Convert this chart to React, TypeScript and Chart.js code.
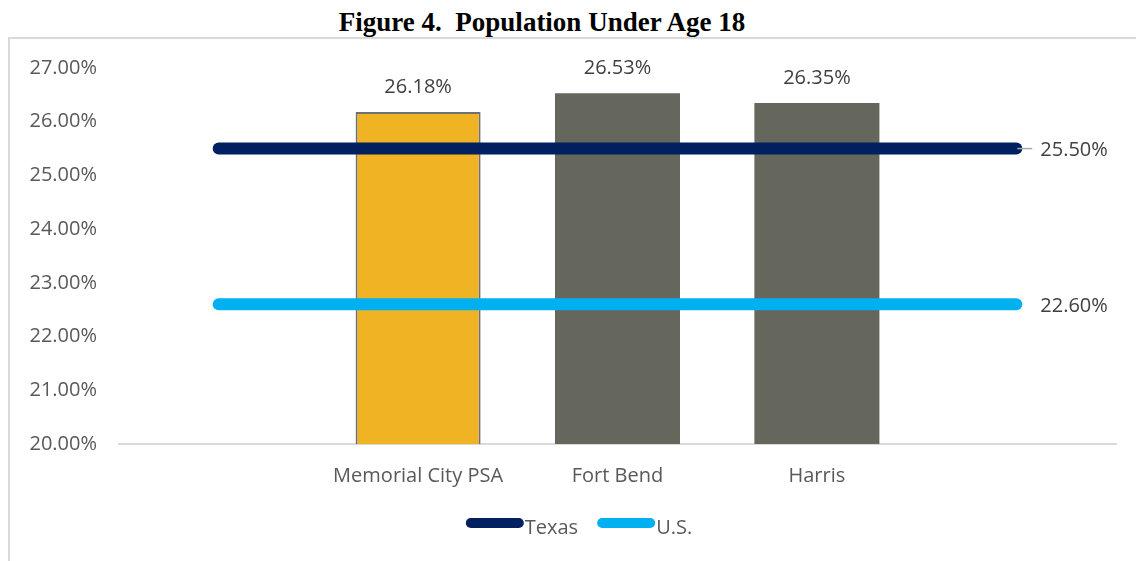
import React, { useEffect, useRef } from 'react';
import { Chart, registerables } from 'chart.js';

Chart.register(...registerables);

const titleText = 'Figure 4.  Population Under Age 18';
const categories = ['', 'Memorial City PSA', 'Fort Bend', 'Harris', ''];
const areaValues = [null, 26.18, 26.53, 26.35, null];
const texasValues = [25.5, 25.5, 25.5, 25.5, 25.5];
const usValues = [22.6, 22.6, 22.6, 22.6, 22.6];
const barColors = ['rgba(0,0,0,0)', '#F0B323', '#65665C', '#65665C', 'rgba(0,0,0,0)'];
const barBorderColors = ['rgba(0,0,0,0)', '#707070', '#65665C', '#65665C', 'rgba(0,0,0,0)'];
const barBorderWidths = [0, 2, 0, 0, 0];
const seriesNames = ['Texas', 'U.S.'];
const yMin = 20;
const yMax = 27;
const yStep = 1;

const FONT = '"Open Sans", "Noto Sans", sans-serif';
const TEXT = '#595959';

const fmt = (v: number) => v.toFixed(2) + '%';

const labelsPlugin = {
  id: 'customLabels',
  afterDatasetsDraw(chart: any) {
    const ctx = chart.ctx;
    ctx.save();
    ctx.font = `20px ${FONT}`;
    ctx.fillStyle = '#404040';
    const barMeta = chart.getDatasetMeta(2);
    barMeta.data.forEach((el: any, i: number) => {
      const v = chart.data.datasets[2].data[i];
      if (v == null) return;
      ctx.textAlign = 'center';
      ctx.textBaseline = 'alphabetic';
      ctx.fillText(fmt(v), el.x, el.y - 19);
    });
    [0, 1].forEach((di) => {
      const meta = chart.getDatasetMeta(di);
      const last = meta.data[meta.data.length - 1];
      const v = chart.data.datasets[di].data[meta.data.length - 1];
      if (di === 0) {
        ctx.strokeStyle = '#A6A6A6';
        ctx.lineWidth = 1.5;
        ctx.beginPath();
        ctx.moveTo(last.x + 1, last.y);
        ctx.lineTo(last.x + 16, last.y);
        ctx.stroke();
      }
      ctx.textAlign = 'left';
      ctx.textBaseline = 'alphabetic';
      ctx.fillStyle = '#404040';
      ctx.fillText(fmt(v), last.x + 24, last.y + 7.5);
    });
    ctx.restore();
  },
  afterDraw(chart: any) {
    const ctx = chart.ctx;
    ctx.save();
    ctx.font = `20px ${FONT}`;
    const swatch = 48;
    const lw = 10;
    const items = [0, 1].map((di) => ({
      text: chart.data.datasets[di].label,
      color: chart.data.datasets[di].borderColor,
    }));
    const widths = items.map((it) => lw + swatch + 1 + ctx.measureText(it.text).width);
    const gap = 19;
    const total = widths.reduce((a, b) => a + b, 0) + gap * (items.length - 1);
    let x = 579 - total / 2;
    const yLine = 523;
    const yText = 534;
    items.forEach((it, i) => {
      ctx.strokeStyle = it.color;
      ctx.lineWidth = lw;
      ctx.lineCap = 'round';
      ctx.beginPath();
      ctx.moveTo(x + lw / 2, yLine);
      ctx.lineTo(x + lw / 2 + swatch, yLine);
      ctx.stroke();
      ctx.fillStyle = TEXT;
      ctx.textAlign = 'left';
      ctx.textBaseline = 'alphabetic';
      ctx.fillText(it.text, x + lw + swatch + 1, yText);
      x += widths[i] + gap;
    });
    ctx.restore();
  },
};

export default function App() {
  const ref = useRef<HTMLCanvasElement | null>(null);

  useEffect(() => {
    if (!ref.current) return;
    Chart.defaults.font.family = FONT;
    const chart = new Chart(ref.current, {
      type: 'bar',
      data: {
        labels: categories,
        datasets: [
          {
            type: 'line',
            label: seriesNames[0],
            data: texasValues,
            borderColor: '#002060',
            backgroundColor: '#002060',
            borderWidth: 12,
            borderCapStyle: 'round',
            pointRadius: 0,
            order: 0,
          } as any,
          {
            type: 'line',
            label: seriesNames[1],
            data: usValues,
            borderColor: '#00B0F0',
            backgroundColor: '#00B0F0',
            borderWidth: 12,
            borderCapStyle: 'round',
            pointRadius: 0,
            order: 1,
          } as any,
          {
            type: 'bar',
            label: 'Area',
            data: areaValues,
            backgroundColor: barColors,
            borderColor: barBorderColors,
            borderWidth: barBorderWidths,
            barPercentage: 0.627,
            categoryPercentage: 1,
            order: 5,
          } as any,
        ],
      },
      options: {
        animation: false,
        responsive: false,
        maintainAspectRatio: false,
        layout: { padding: { left: 0, right: 20, top: 68, bottom: 53 } },
        plugins: {
          legend: { display: false },
          title: { display: false },
          tooltip: { enabled: false },
        },
        scales: {
          x: {
            grid: { display: false, drawTicks: false },
            border: { display: true, color: '#D9D9D9', width: 2 },
            ticks: { color: TEXT, font: { size: 20, family: FONT }, padding: 20, maxRotation: 0, autoSkip: false },
          },
          y: {
            min: yMin,
            max: yMax,
            grid: { display: false, drawTicks: false },
            border: { display: false },
            afterFit: (scale: any) => {
              scale.width = 119;
            },
            ticks: {
              stepSize: yStep,
              color: TEXT,
              font: { size: 20, family: FONT },
              padding: 22,
              callback: (v: any) => Number(v).toFixed(2) + '%',
            },
          },
        },
      },
      plugins: [labelsPlugin],
    });
    return () => chart.destroy();
  }, []);

  return (
    <div style={{ position: 'fixed', left: 0, top: 0, width: 1136, height: 561, overflow: 'hidden', background: '#fff' }}>
      <div
        style={{
          position: 'absolute',
          left: 8,
          top: 37,
          width: 1200,
          height: 600,
          borderLeft: '2px solid #D9D9D9',
          borderTop: '2px solid #D9D9D9',
          boxSizing: 'border-box',
        }}
      />
      <div
        style={{
          position: 'absolute',
          left: 0,
          top: 6,
          width: 1084,
          textAlign: 'center',
          whiteSpace: 'pre',
          fontFamily: '"Liberation Serif", serif',
          fontWeight: 'bold',
          fontSize: 27,
          lineHeight: '32px',
          color: '#000',
        }}
      >
        {titleText}
      </div>
      <canvas ref={ref} width={1136} height={561} style={{ position: 'absolute', left: 0, top: 0, width: 1136, height: 561 }} />
    </div>
  );
}
